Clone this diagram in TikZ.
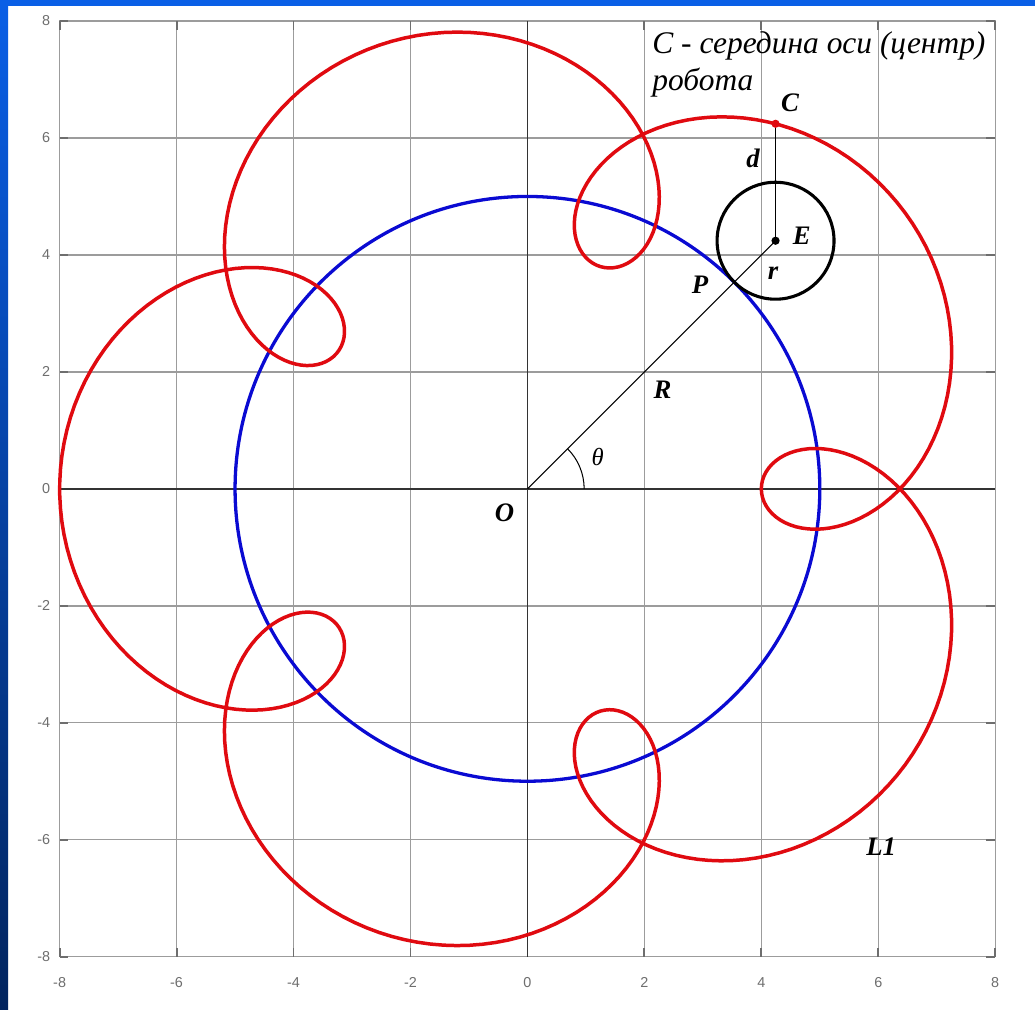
\documentclass[tikz,border=0pt]{standalone}
\usepackage{fontspec}
\setmainfont{Liberation Serif}
\newfontfamily\ticksans{Liberation Sans}
\usetikzlibrary{calc}
\definecolor{curvered}{HTML}{E00A10}
\definecolor{baseblue}{HTML}{0A0AD2}
\definecolor{slidetop}{HTML}{0A5FE6}
\definecolor{slidedark}{HTML}{02245E}
\definecolor{gridgray}{HTML}{9C9C9C}
\definecolor{tickgray}{HTML}{6E6E6E}

\begin{document}
\begin{tikzpicture}[
    lbl/.style={font=\fontsize{13}{15}\selectfont\bfseries\itshape, inner sep=1pt},
    note/.style={font=\fontsize{15.3}{18}\selectfont\itshape, anchor=base west, inner sep=0pt},
    num/.style={font=\ticksans\fontsize{7}{8}\selectfont, text=tickgray, inner sep=1pt},
    gridline/.style={gridgray, line width=0.7pt},
    thinline/.style={line width=0.5pt}
  ]
  % page and slide border
  \useasboundingbox (-9.02,-8.91) rectangle (8.68,8.36);
  \fill[white] (-9.02,-8.91) rectangle (8.68,8.36);
  \shade[top color=slidetop, bottom color=slidedark] (-9.02,-8.91) rectangle (-8.88,8.36);
  \fill[slidetop] (-9.02,8.26) rectangle (8.68,8.36);

  % grid, frame and axes
  \foreach \v in {-6,-4,-2,2,4,6} {
    \draw[gridline] (\v,-8) -- (\v,8);
    \draw[gridline] (-8,\v) -- (8,\v);
  }
  \draw[gridline] (-8,-8) rectangle (8,8);
  \foreach \v in {-8,-6,...,8} {
    \draw[tickgray, line width=0.9pt] (\v,-8) -- ++(0,0.15) (\v,8) -- ++(0,-0.15)
      (-8,\v) -- ++(0.15,0) (8,\v) -- ++(-0.15,0);
    \node[num, anchor=east] at (-8.12,\v) {\v};
    \node[num] at (\v,-8.44) {\v};
  }
  \draw[black!80, line width=0.9pt] (-8,0) -- (8,0) (0,-8) -- (0,8);

  % fixed circle and the path of C
  \draw[baseblue, line width=1.6pt] (0,0) circle (5);
  \draw[curvered, line width=1.7pt] plot[domain=0:360, samples=500, variable=\t]
    ({6*cos(\t)-2*cos(6*\t)}, {6*sin(\t)-2*sin(6*\t)});

  % rolling wheel
  \coordinate (orig) at (0,0);
  \coordinate (E) at (4.243,4.243);
  \coordinate (C) at (4.243,6.243);
  \draw[line width=1.5pt] (E) circle (1);
  \draw[thinline] (orig) -- (E);
  \draw[thinline] (E) -- (C);
  \draw[thinline] (0.97,0) arc (0:45:0.97);
  \fill (E) circle (2pt);
  \fill[curvered] (C) circle (2pt);

  % labels
  \node[lbl] (lblO) at (-0.39,-0.41) {O};
  \node[lbl] (lblR) at (2.31,1.69) {R};
  \node[font=\fontsize{12}{14}\selectfont\itshape] (lblTheta) at (1.20,0.55) {θ};
  \node[lbl] (lblP) at (2.95,3.49) {P};
  \node[lbl] (lblr) at (4.20,3.69) {r};
  \node[lbl] (lblE) at (4.69,4.32) {E};
  \node[lbl] (lbld) at (3.86,5.66) {d};
  \node[lbl] (lblC) at (4.49,6.60) {C};
  \node[lbl] (lblL) at (6.05,-6.12) {L1};
  \node[note] (cap1) at (2.13,7.45) {С - середина оси (центр)};
  \node[note] (cap2) at (2.13,6.82) {робота};
\end{tikzpicture}
\end{document}
